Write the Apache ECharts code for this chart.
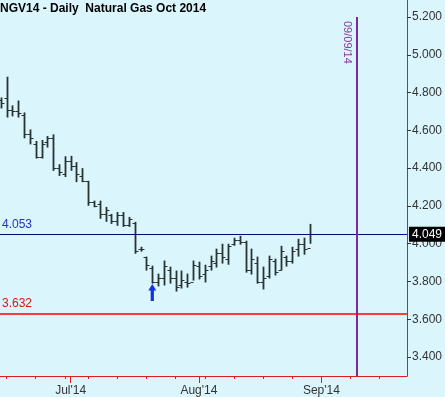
<!DOCTYPE html>
<html><head><meta charset="utf-8">
<script src="https://cdn.jsdelivr.net/npm/echarts@6/dist/echarts.min.js"></script>
<style>html,body{margin:0;padding:0;background:#dbf5fd}#c{width:445px;height:397px}</style>
</head><body><div id="c"></div>
<script>
// Slots on the time axis (trading days, then future weekdays)
const dates = [
 '2014-06-13','2014-06-16','2014-06-17','2014-06-18','2014-06-19','2014-06-20','2014-06-23','2014-06-24','2014-06-25','2014-06-26','2014-06-27','2014-06-30',
 '2014-07-01','2014-07-02','2014-07-03','2014-07-07','2014-07-08','2014-07-09','2014-07-10','2014-07-11','2014-07-14','2014-07-15','2014-07-16','2014-07-17','2014-07-18',
 '2014-07-21','2014-07-22','2014-07-23','2014-07-24','2014-07-25','2014-07-28','2014-07-29','2014-07-30','2014-07-31',
 '2014-08-01','2014-08-04','2014-08-05','2014-08-06','2014-08-07','2014-08-08','2014-08-11','2014-08-12','2014-08-13','2014-08-14','2014-08-15',
 '2014-08-18','2014-08-19','2014-08-20','2014-08-21','2014-08-22','2014-08-25','2014-08-26','2014-08-27','2014-08-28',
 '2014-08-29','2014-09-01','2014-09-02','2014-09-03','2014-09-04','2014-09-05','2014-09-08','2014-09-09','2014-09-10','2014-09-11','2014-09-12',
 '2014-09-15','2014-09-16','2014-09-17','2014-09-18','2014-09-19'
];
const openP  = [4.76,4.77,4.71,4.70,4.68,4.58,4.53,4.46,4.54,4.56,4.40,4.37,4.44,4.41,4.36,4.33,4.22,4.21,4.16,4.15,4.12,4.15,4.10,4.11,3.97,3.93,3.87,3.80,3.82,3.86,3.82,3.78,3.80,3.80,3.88,3.84,3.88,3.90,3.95,3.92,4.00,4.02,4.01,3.86,3.90,3.80,3.83,3.91,3.86,3.93,3.91,3.97,4.00,3.98];
const highP  = [4.774,4.884,4.732,4.758,4.695,4.605,4.544,4.549,4.570,4.579,4.421,4.463,4.465,4.432,4.400,4.333,4.228,4.228,4.195,4.158,4.168,4.168,4.142,4.116,3.984,3.932,3.884,3.842,3.911,3.879,3.858,3.858,3.842,3.911,3.905,3.889,3.937,3.974,4.000,4.000,4.032,4.042,4.016,3.974,3.932,3.879,3.937,3.921,3.989,3.937,3.984,4.026,4.032,4.105];
const lowP   = [4.716,4.668,4.674,4.668,4.558,4.526,4.451,4.451,4.509,4.386,4.359,4.353,4.386,4.326,4.326,4.201,4.193,4.132,4.116,4.105,4.095,4.089,4.089,3.947,3.958,3.858,3.789,3.774,3.779,3.789,3.747,3.763,3.768,3.805,3.811,3.795,3.858,3.874,3.895,3.889,3.989,3.995,3.847,3.837,3.789,3.758,3.816,3.832,3.858,3.879,3.895,3.932,3.942,4.000];
const closeP = [4.747,4.71,4.70,4.69,4.58,4.56,4.46,4.53,4.56,4.40,4.38,4.44,4.41,4.37,4.33,4.22,4.20,4.16,4.18,4.12,4.15,4.10,4.13,3.96,3.97,3.89,3.80,3.82,3.88,3.82,3.77,3.81,3.79,3.89,3.83,3.86,3.91,3.95,3.93,3.99,4.02,4.01,3.86,3.92,3.80,3.82,3.92,3.85,3.96,3.91,3.96,4.00,3.97,4.049];
const priceTicks = [3.4,3.6,3.8,4.0,4.2,4.4,4.6,4.8,5.0,5.2];
const monthNames = ['Jan','Feb','Mar','Apr','May','Jun','Jul','Aug','Sep','Oct','Nov','Dec'];
const resistance = 4.053, support = 3.632;
const lastPrice = closeP[closeP.length-1];
const markDate = '2014-09-09';
const arrowDate = '2014-07-22';
const title = 'NGV14 - Daily  Natural Gas Oct 2014';

const monthIdx = [], mondayIdx = [];
dates.forEach((d,i)=>{
  const dt = new Date(d+'T00:00:00Z');
  if (i>0 && dates[i-1].slice(5,7)!==d.slice(5,7)) monthIdx.push(i);
  if (dt.getUTCDay()===1) mondayIdx.push(i);
});
const ohlc = openP.map((o,i)=>[i,o,highP[i],lowP[i],closeP[i]]);
const markIdx = dates.indexOf(markDate);
const arrowIdx = dates.indexOf(arrowDate);
const fmtDate = d => d.slice(5,7)+'/'+d.slice(8,10)+'/'+d.slice(2,4);

const FONT = 'Liberation Sans, Arial, sans-serif';
const chart = echarts.init(document.getElementById('c'), null, {renderer:'canvas'});
const XMIN=-0.12, XMAX=69.68;
const hLine = (val, color, labelColor) => ({
  type:'line', xAxisIndex:0, yAxisIndex:0, data:[], silent:true,
  markLine:{symbol:'none',silent:true,animation:false,
    lineStyle:{color:color,width:1,type:'solid',opacity:1},
    label:{show:true,position:'insideStartTop',distance:[2,4],formatter:val.toFixed(3),color:labelColor,fontFamily:FONT,fontSize:12},
    data:[{yAxis:val}]}
});
chart.setOption({
  backgroundColor:'#dbf5fd',
  animation:false,
  title:{text:title,left:0,top:3,padding:0,textStyle:{fontFamily:FONT,fontSize:12,fontWeight:'bold',color:'#000'}},
  grid:{left:0,right:36,top:0,bottom:19,containLabel:false},
  xAxis:[{
    type:'value',min:XMIN,max:XMAX,position:'bottom',
    axisLine:{show:true,onZero:false,lineStyle:{color:'#d81e1e',width:1}},
    axisTick:{show:true,customValues:mondayIdx,length:3,lineStyle:{color:'#d81e1e'}},
    axisLabel:{show:false},splitLine:{show:false}
  },{
    type:'value',min:XMIN,max:XMAX,position:'bottom',
    axisLine:{show:false,onZero:false},
    axisTick:{show:true,customValues:monthIdx,length:7,lineStyle:{color:'#d81e1e'}},
    axisLabel:{show:true,customValues:monthIdx,margin:9,fontFamily:FONT,fontSize:12,color:'#333',
      formatter:v=>{const d=dates[Math.round(v)];return monthNames[+d.slice(5,7)-1]+"'"+d.slice(2,4);}},
    splitLine:{show:false}
  }],
  yAxis:{
    type:'value',min:3.3,max:5.29,position:'right',
    axisLine:{show:true,onZero:false,lineStyle:{color:'#d81e1e',width:1}},
    axisTick:{show:true,customValues:priceTicks,length:4,lineStyle:{color:'#333'}},
    axisLabel:{show:true,customValues:priceTicks,margin:5,fontFamily:FONT,fontSize:12,color:'#333',formatter:v=>v.toFixed(3)},
    splitLine:{show:false}
  },
  series:[
  hLine(resistance,'#0a0a80','#2233bb'),
  {
    type:'custom',xAxisIndex:0,yAxisIndex:0,
    data:ohlc,
    encode:{x:0,y:[1,2,3,4]},
    renderItem:(params,api)=>{
      const x=api.value(0);
      const pH=api.coord([x,api.value(2)]), pL=api.coord([x,api.value(3)]);
      const pO=api.coord([x,api.value(1)]), pC=api.coord([x,api.value(4)]);
      const cx=Math.round(pH[0])+0.5;
      const st={stroke:'#263434',lineWidth:1.8};
      const st2={stroke:'#263434',lineWidth:1};
      return {type:'group',children:[
        {type:'line',shape:{x1:cx,y1:pH[1],x2:cx,y2:pL[1]},style:st},
        {type:'line',shape:{x1:cx-3,y1:Math.round(pO[1])+0.5,x2:cx,y2:Math.round(pO[1])+0.5},style:st2},
        {type:'line',shape:{x1:cx,y1:Math.round(pC[1])+0.5,x2:cx+3,y2:Math.round(pC[1])+0.5},style:st2}
      ]};
    },
    markLine:{
      symbol:'none',silent:true,
      data:[
        {yAxis:lastPrice,lineStyle:{color:'rgba(0,0,0,0)',width:1,type:'solid'},
          label:{show:true,position:'end',distance:2,formatter:lastPrice.toFixed(3),color:'#fff',backgroundColor:'#000',padding:[2,3,1,3],fontFamily:FONT,fontSize:12}},
        [{coord:[markIdx,5.2],lineStyle:{color:'#7a2a90',width:2,type:'solid'},
          label:{show:true,position:'insideStartBottom',distance:4,formatter:fmtDate(markDate),color:'#8a3aa0',fontFamily:FONT,fontSize:11}},
         {coord:[markIdx,3.3]}]
      ]
    },
    markPoint:{
      silent:true,
      data:[{coord:[arrowIdx,lowP[arrowIdx]],symbol:'path://M5,0 L10,7 L7,7 L7,18 L3,18 L3,7 L0,7 Z',
        symbolSize:[8,17],symbolOffset:[0,'52%'],itemStyle:{color:'#1133dd'},label:{show:false}}]
    }
  },
  {
    type:'line', xAxisIndex:0, yAxisIndex:0, data:[], silent:true, z:5,
    markLine:{symbol:'none',silent:true,animation:false,
      lineStyle:{color:'#ff0000',width:1.5,type:'solid',opacity:1},
      label:{show:true,position:'insideStartTop',distance:[2,4],formatter:support.toFixed(3),color:'#e01010',fontFamily:FONT,fontSize:12},
      data:[{yAxis:support}]}
  }]
});
</script></body></html>
